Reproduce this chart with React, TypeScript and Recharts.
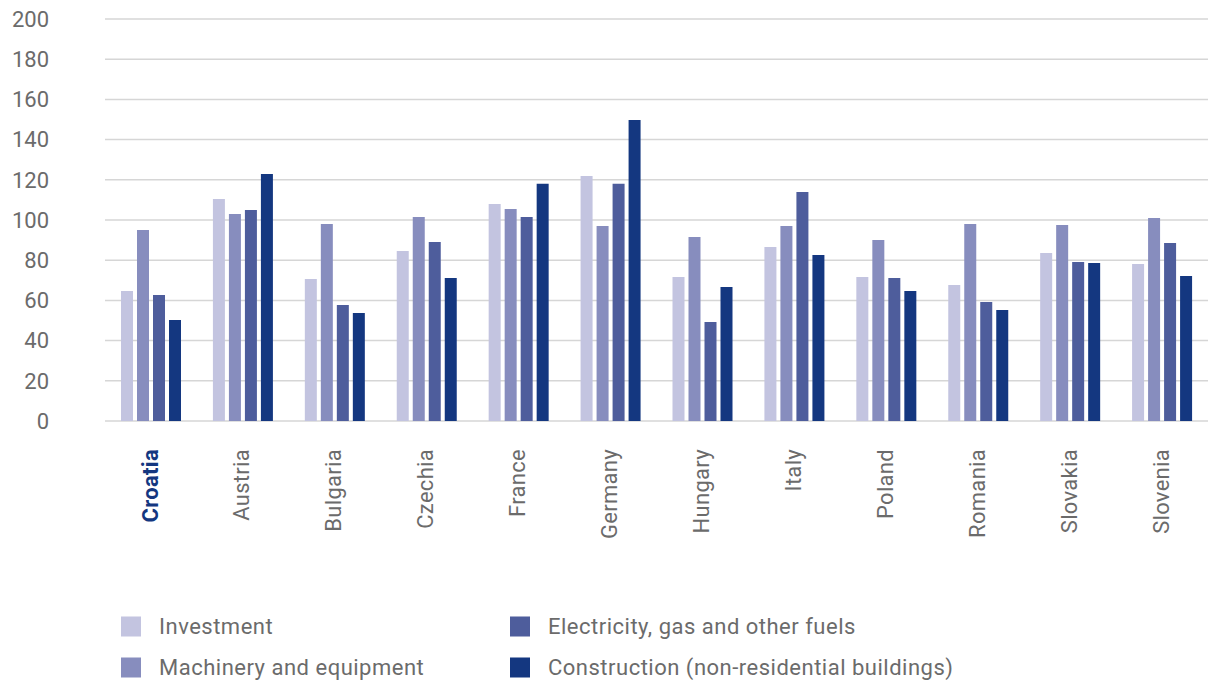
import React from "react";
import { BarChart, Bar, XAxis, YAxis, CartesianGrid } from "recharts";

const countries = ["Croatia", "Austria", "Bulgaria", "Czechia", "France", "Germany", "Hungary", "Italy", "Poland", "Romania", "Slovakia", "Slovenia"];
const investment = [64.7, 110.4, 70.6, 84.6, 108, 121.9, 71.6, 86.6, 71.6, 67.7, 83.6, 78.1];
const machinery = [95, 103, 98, 101.5, 105.5, 97, 91.5, 97, 90, 98, 97.5, 101];
const electricity = [62.7, 105, 57.7, 89, 101.5, 118, 49.3, 113.9, 71.1, 59.2, 79.1, 88.6];
const construction = [50.2, 122.9, 53.7, 71.1, 118, 149.8, 66.7, 82.6, 64.7, 55.2, 78.6, 72.1];
const yTicks = [0, 20, 40, 60, 80, 100, 120, 140, 160, 180, 200];

const seriesNames = ["Investment", "Machinery and equipment", "Electricity, gas and other fuels", "Construction (non-residential buildings)"];
const seriesKeys = ["investment", "machinery", "electricity", "construction"];
const seriesColors = ["#C3C4E0", "#878DBE", "#4E5D9C", "#143780"];

const data = countries.map((c, i) => ({
  country: c,
  investment: investment[i],
  machinery: machinery[i],
  electricity: electricity[i],
  construction: construction[i],
}));

const FONT = "Roboto, 'DejaVu Sans', sans-serif";
const GREY = "#6b6b6b";

const CountryTick = (props: any) => {
  const { x, y, payload } = props;
  const bold = payload.value === "Croatia";
  return (
    <g transform={`translate(${x},${y})`}>
      <text
        transform="rotate(-90)"
        x={-28}
        y={0}
        dy="0.3em"
        textAnchor="end"
        fontFamily={FONT}
        fontSize={22}
        letterSpacing={0.3}
        fontWeight={bold ? 700 : 400}
        fill={bold ? "#143780" : GREY}
      >
        {payload.value}
      </text>
    </g>
  );
};

const legendPos = [
  { left: 121, top: 36 },
  { left: 121, top: 77 },
  { left: 510, top: 36 },
  { left: 510, top: 77 },
];

export default function App() {
  return (
    <div style={{ width: 1208, height: 683, background: "#fff", fontFamily: FONT }}>
      <style>{`body{margin:0}`}</style>
      <BarChart
        width={1208}
        height={590}
        data={data}
        margin={{ top: 19, right: 0, left: 0, bottom: 0 }}
        barCategoryGap={16}
        barGap={4}
      >
        <CartesianGrid vertical={false} stroke="#d6d6d6" strokeWidth={1.5} />
        <YAxis
          width={105}
          domain={[0, 200]}
          ticks={yTicks}
          axisLine={false}
          tickLine={false}
          tickSize={0}
          tickMargin={56}
          interval={0}
          tick={{ fontFamily: FONT, fontSize: 22, fill: GREY }}
        />
        <XAxis
          dataKey="country"
          height={169}
          axisLine={false}
          tickLine={false}
          tickSize={0}
          tickMargin={0}
          interval={0}
          tick={<CountryTick />}
        />
        {seriesKeys.map((k, i) => (
          <Bar key={k} dataKey={k} name={seriesNames[i]} fill={seriesColors[i]} barSize={12} isAnimationActive={false} />
        ))}
      </BarChart>
      <div style={{ position: "relative", width: 1208, height: 93 }}>
        {seriesNames.map((n, i) => (
          <div
            key={n}
            style={{
              position: "absolute",
              left: legendPos[i].left,
              top: legendPos[i].top,
              display: "flex",
              alignItems: "center",
              transform: "translateY(-50%)",
            }}
          >
            <div style={{ width: 20, height: 20, background: seriesColors[i], marginRight: 18 }} />
            <span style={{ fontSize: 22, color: GREY, whiteSpace: "nowrap", letterSpacing: 0.5 }}>{n}</span>
          </div>
        ))}
      </div>
    </div>
  );
}
